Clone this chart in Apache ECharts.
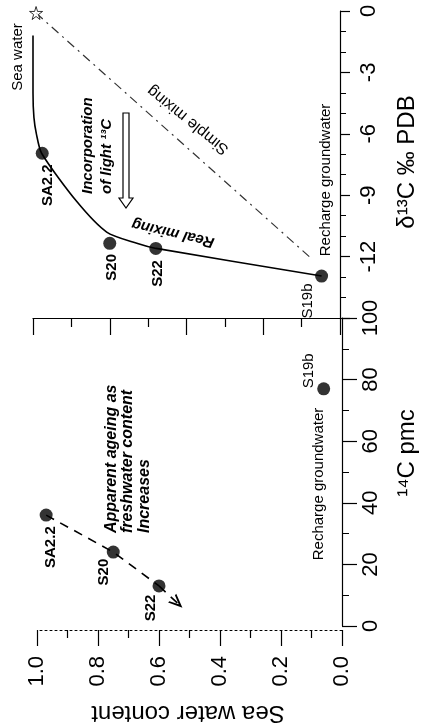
<!DOCTYPE html>
<html>
<head>
<meta charset="utf-8">
<script src="https://cdn.jsdelivr.net/npm/echarts@6/dist/echarts.min.js"></script>
<style>
html,body{margin:0;padding:0;background:#fff;}
#chart{width:424px;height:726px;}
</style>
</head>
<body>
<div id="chart"></div>
<script>
// ---- data ----
const sampleNames = ['SA2.2', 'S20', 'S22', 'S19b'];
const seaWaterContent = [0.97, 0.75, 0.60, 0.06];
const c14pmc = [36, 24, 13, 77];
const d13C = [-6.95, -11.35, -11.6, -12.95];

// "Real mixing" curve (sea water content, d13C)
const realMixingSea = [1.0, 1.0, 0.997, 0.989, 0.972, 0.858, 0.760, 0.662, 0.599, 0.060];
const realMixingD13C = [-1.2, -4.0, -5.2, -6.0, -6.95, -9.3, -10.8, -11.35, -11.6, -12.95];

// "Simple mixing" straight line
const simpleMixingSea = [0.99, 0.10];
const simpleMixingD13C = [-0.1, -12.0];

// sea water end-member (star)
const seaWaterEndSea = [0.99];
const seaWaterEndD13C = [-0.1];

// apparent ageing trend (dashed arrow) in the 14C panel
const ageingSea = [0.97, 0.75, 0.60];
const ageingC14 = [36, 24, 13];
const ageingArrowEndSea = 0.54;
const ageingArrowEndC14 = 7.5;

// tick label sets
const seaTickLabels = ['0.0', '0.2', '0.4', '0.6', '0.8', '1.0'];
const c14TickLabels = ['0', '20', '40', '60', '80', '100'];
const d13CTickLabels = ['-12', '-9', '-6', '-3', '0'];

// ---- chart ----
const FONT = "'Liberation Sans', Arial, sans-serif";
const chart = echarts.init(document.getElementById('chart'), null, {renderer: 'canvas'});

const pairs = (xs, ys) => xs.map((x, i) => [x, ys[i]]);
const starPath = 'path://M50,2 L61,37 L98,37 L68,59 L79,95 L50,73 L21,95 L32,59 L2,37 L39,37 Z';
const chevron = 'path://M0,10 L5,0 L10,10 L8.4,10 L5,3.6 L1.6,10 Z';

const axisLabelStyle = {color: '#000', fontSize: 22, fontFamily: FONT};

chart.setOption({
  animation: false,
  backgroundColor: '#fff',
  grid: [
    {left: 33, right: 84, top: 11, height: 307, outerBoundsMode: 'none', containLabel: false},
    {left: 37, right: 82, top: 318, height: 308, outerBoundsMode: 'none', containLabel: false}
  ],
  xAxis: [
    {
      gridIndex: 0, type: 'value', min: 0, max: 1, interval: 0.25, inverse: true, position: 'bottom',
      axisLine: {show: true, onZero: false, lineStyle: {color: '#000', width: 1.2}},
      axisTick: {show: true, inside: false, length: 17, lineStyle: {color: '#000', width: 1.2}},
      minorTick: {show: true, splitNumber: 2, length: 9, lineStyle: {color: '#000', width: 1.2}},
      axisLabel: {show: false},
      splitLine: {show: false}
    },
    {
      gridIndex: 1, type: 'value', min: 0, max: 1, interval: 0.2, inverse: true, position: 'bottom', offset: 4,
      axisLine: {show: true, onZero: false, lineStyle: {color: '#000', width: 1, type: [2, 3]}},
      axisTick: {show: true, inside: false, length: 16, lineStyle: {color: '#000', width: 1.2}},
      minorTick: {show: true, splitNumber: 2, length: 8, lineStyle: {color: '#000', width: 1.2}},
      axisLabel: Object.assign({show: true, rotate: 90, margin: 26,
        formatter: v => seaTickLabels[Math.round(v * 5)]}, axisLabelStyle),
      splitLine: {show: false}
    }
  ],
  yAxis: [
    {
      gridIndex: 0, type: 'value', min: -15, max: 0, interval: 3, position: 'right',
      axisLine: {show: true, onZero: false, lineStyle: {color: '#000', width: 1.2}},
      axisTick: {show: true, inside: false, length: 10, lineStyle: {color: '#000', width: 1.2}},
      minorTick: {show: true, splitNumber: 3, length: 6, lineStyle: {color: '#000', width: 1}},
      axisLabel: Object.assign({show: true, rotate: 90, margin: 18, showMinLabel: false,
        formatter: v => d13CTickLabels[Math.round((v + 12) / 3)] || ''}, axisLabelStyle),
      splitLine: {show: false}
    },
    {
      gridIndex: 1, type: 'value', min: 0, max: 100, interval: 20, position: 'right',
      axisLine: {show: true, onZero: false, lineStyle: {color: '#000', width: 1.2}},
      axisTick: {show: true, inside: false, length: 15, lineStyle: {color: '#000', width: 1.2}},
      minorTick: {show: true, splitNumber: 2, length: 7, lineStyle: {color: '#000', width: 1}},
      axisLabel: Object.assign({show: true, rotate: 90, margin: 18,
        formatter: v => c14TickLabels[Math.round(v / 20)]}, axisLabelStyle),
      splitLine: {show: false}
    }
  ],
  series: [
    {
      name: 'Real mixing', type: 'line', xAxisIndex: 0, yAxisIndex: 0, clip: false,
      data: pairs(realMixingSea, realMixingD13C), showSymbol: false, symbol: 'none',
      smooth: 0.25, lineStyle: {color: '#000', width: 1.6}, z: 2
    },
    {
      name: 'Simple mixing', type: 'line', xAxisIndex: 0, yAxisIndex: 0, clip: false,
      data: pairs(simpleMixingSea, simpleMixingD13C), symbol: 'none',
      lineStyle: {color: '#333', width: 1.2, type: [9, 5, 2, 5]}, z: 2
    },
    {
      name: 'Sea water', type: 'scatter', xAxisIndex: 0, yAxisIndex: 0, clip: false,
      data: pairs(seaWaterEndSea, seaWaterEndD13C), symbol: starPath, symbolSize: 13,
      itemStyle: {color: '#fff', borderColor: '#000', borderWidth: 1}, z: 4
    },
    {
      name: 'Samples d13C', type: 'scatter', xAxisIndex: 0, yAxisIndex: 0,
      data: pairs(seaWaterContent, d13C), symbol: 'circle', symbolSize: 13,
      itemStyle: {color: '#000'}, z: 5
    },
    {
      name: 'Apparent ageing', type: 'line', xAxisIndex: 1, yAxisIndex: 1,
      data: pairs(ageingSea, ageingC14), symbol: 'none',
      lineStyle: {color: '#000', width: 1.6, type: [9, 7]}, z: 2,
      markLine: {
        silent: true, animation: false,
        symbol: ['none', chevron], symbolSize: [12, 14],
        label: {show: false},
        lineStyle: {color: '#000', width: 1.6, type: [9, 7]},
        data: [[
          {coord: [ageingSea[ageingSea.length - 1], ageingC14[ageingC14.length - 1]]},
          {coord: [ageingArrowEndSea, ageingArrowEndC14]}
        ]]
      }
    },
    {
      name: 'Samples 14C', type: 'scatter', xAxisIndex: 1, yAxisIndex: 1,
      data: pairs(seaWaterContent, c14pmc), symbol: 'circle', symbolSize: 13,
      itemStyle: {color: '#000'}, z: 5
    }
  ]
});

// ---- text annotations (placed relative to the plotted points) ----
const deg = d => d * Math.PI / 180;
function txt(text, x, y, rotDeg, font, align) {
  return {
    type: 'text', x: x, y: y, rotation: deg(rotDeg), z: 100,
    style: {
      text: text, font: font + ' ' + FONT, fill: '#000',
      textAlign: align || 'center', align: align || 'center',
      textVerticalAlign: 'middle', verticalAlign: 'middle'
    }
  };
}
const upperLabelOffsets = [[6, 32], [2, 24], [2, 25], [-14, 25]];
const lowerLabelOffsets = [[5, 32], [-9, 20], [-8, 22], [-15, -18]];
const graphics = [];
sampleNames.forEach((name, i) => {
  const pu = chart.convertToPixel({xAxisIndex: 0, yAxisIndex: 0}, [seaWaterContent[i], d13C[i]]);
  const pl = chart.convertToPixel({xAxisIndex: 1, yAxisIndex: 1}, [seaWaterContent[i], c14pmc[i]]);
  const f = name === 'S19b' ? '15px' : 'bold 15px';
  graphics.push(txt(name, pu[0] + upperLabelOffsets[i][0], pu[1] + upperLabelOffsets[i][1], 90, f));
  graphics.push(txt(name, pl[0] + lowerLabelOffsets[i][0], pl[1] + lowerLabelOffsets[i][1], 90, f));
});
graphics.push(
  txt('Sea water', 18, 57, 90, '15px'),
  txt('Incorporation', 88, 194, 90, 'italic bold 15px', 'left'),
  txt('of light \u00b9\u00b3C', 107, 194, 90, 'italic bold 15px', 'left'),
  txt('Real mixing', 173, 233, 167, 'italic bold 15px'),
  txt('Simple mixing', 188, 120, 141, '16px'),
  txt('Recharge groundwater', 326, 180, 90, '15px'),
  txt('Recharge groundwater', 319, 484, 90, '15px'),
  txt('Apparent ageing as', 112, 533, 90, 'italic bold 16px', 'left'),
  txt('freshwater content', 128, 533, 90, 'italic bold 16px', 'left'),
  txt('Increases', 145, 533, 90, 'italic bold 16px', 'left'),
  txt('\u03b4\u00b9\u00b3C \u2030 PDB', 407, 162, 90, '24px'),
  txt('\u00b9\u2074C pmc', 407, 453, 90, '24px'),
  txt('Sea water content', 188, 713, 180, '24px'),
  {
    type: 'polygon', z: 100,
    shape: {points: [[123, 113], [129, 113], [129, 198], [133, 198], [126, 208], [119, 198], [123, 198]]},
    style: {fill: '#fff', stroke: '#000', lineWidth: 1.2}
  }
);
chart.setOption({graphic: graphics});
</script>
</body>
</html>
